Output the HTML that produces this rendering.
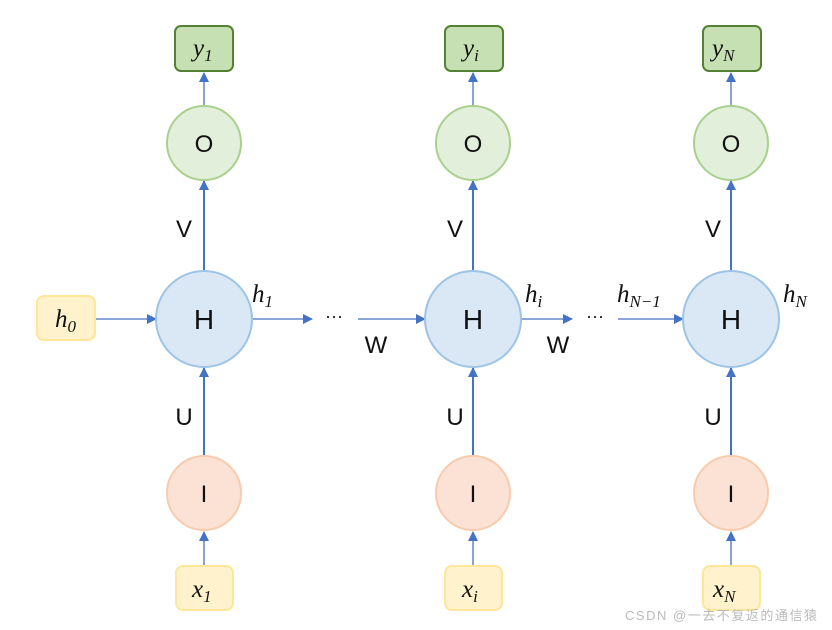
<!DOCTYPE html>
<html><head><meta charset="utf-8"><style>
html,body{margin:0;padding:0;background:#fff;}
svg{display:block;}
.lab{font-family:"Liberation Sans",sans-serif;font-size:24px;fill:#111;}
.m{font-family:"Liberation Serif",serif;font-style:italic;font-size:25px;fill:#111;}
.s{font-size:17px;}
</style></head><body>
<svg width="832" height="630" viewBox="0 0 832 630" xmlns="http://www.w3.org/2000/svg">
<defs>
<marker id="a" markerWidth="10" markerHeight="10" refX="9" refY="5" orient="auto" markerUnits="userSpaceOnUse">
<path d="M0,0 L10,5 L0,10 z" fill="#4472c4"/></marker>
</defs>
<g stroke="#4472c4" fill="none">
<line x1="204" y1="106" x2="204" y2="73" stroke-width="1.3" marker-end="url(#a)"/>
<line x1="204" y1="270" x2="204" y2="181" stroke-width="2" marker-end="url(#a)"/>
<line x1="204" y1="456" x2="204" y2="368" stroke-width="2" marker-end="url(#a)"/>
<line x1="204" y1="566" x2="204" y2="532" stroke-width="1.3" marker-end="url(#a)"/>
<line x1="473" y1="106" x2="473" y2="73" stroke-width="1.3" marker-end="url(#a)"/>
<line x1="473" y1="270" x2="473" y2="181" stroke-width="2" marker-end="url(#a)"/>
<line x1="473" y1="456" x2="473" y2="368" stroke-width="2" marker-end="url(#a)"/>
<line x1="473" y1="566" x2="473" y2="532" stroke-width="1.3" marker-end="url(#a)"/>
<line x1="731" y1="106" x2="731" y2="73" stroke-width="1.3" marker-end="url(#a)"/>
<line x1="731" y1="270" x2="731" y2="181" stroke-width="2" marker-end="url(#a)"/>
<line x1="731" y1="456" x2="731" y2="368" stroke-width="2" marker-end="url(#a)"/>
<line x1="731" y1="566" x2="731" y2="532" stroke-width="1.3" marker-end="url(#a)"/>
<line x1="96" y1="319" x2="156" y2="319" stroke-width="1.3" marker-end="url(#a)"/>
<line x1="252" y1="319" x2="312" y2="319" stroke-width="1.3" marker-end="url(#a)"/>
<line x1="358" y1="319" x2="425" y2="319" stroke-width="1.3" marker-end="url(#a)"/>
<line x1="521" y1="319" x2="572" y2="319" stroke-width="1.3" marker-end="url(#a)"/>
<line x1="618" y1="319" x2="683" y2="319" stroke-width="1.3" marker-end="url(#a)"/>
</g>
<g fill="#c6e0b4" stroke="#548235" stroke-width="2">
<rect x="175" y="26" width="58" height="45" rx="6"/>
<rect x="445" y="26" width="58" height="45" rx="6"/>
<rect x="703" y="26" width="58" height="45" rx="6"/>
</g>
<g fill="#fff2cc" stroke="#ffe699" stroke-width="2">
<rect x="176" y="566" width="57" height="44" rx="7"/>
<rect x="445" y="566" width="57" height="44" rx="7"/>
<rect x="703" y="566" width="57" height="44" rx="7"/>
<rect x="37" y="296" width="58" height="44" rx="7"/>
</g>
<g fill="#e2efda" stroke="#a9d18e" stroke-width="2">
<circle cx="204" cy="143" r="37"/><circle cx="473" cy="143" r="37"/><circle cx="731" cy="143" r="37"/>
</g>
<g fill="#dae8f5" stroke="#9dc3e6" stroke-width="2">
<circle cx="204" cy="319" r="48"/><circle cx="473" cy="319" r="48"/><circle cx="731" cy="319" r="48"/>
</g>
<g fill="#fbe2d5" stroke="#f8cbad" stroke-width="2">
<circle cx="204" cy="493" r="37"/><circle cx="473" cy="493" r="37"/><circle cx="731" cy="493" r="37"/>
</g>
<g class="lab" text-anchor="middle">
<text x="204" y="152">O</text><text x="473" y="152">O</text><text x="731" y="152">O</text>
<text x="204" y="329" font-size="28">H</text><text x="473" y="329" font-size="28">H</text><text x="731" y="329" font-size="28">H</text>
<text x="204" y="502">I</text><text x="473" y="502">I</text><text x="731" y="502">I</text>
<text x="184" y="237">V</text><text x="455" y="237">V</text><text x="713" y="237">V</text>
<text x="184" y="425">U</text><text x="455" y="425">U</text><text x="713" y="425">U</text>
<text x="376" y="353">W</text><text x="558" y="353">W</text>
<text x="334" y="322" font-size="18">···</text><text x="595" y="322" font-size="18">···</text>
</g>
<g class="m">
<text x="193" y="56">y<tspan class="s" dy="5">1</tspan></text>
<text x="463" y="56">y<tspan class="s" dy="5">i</tspan></text>
<text x="712" y="56">y<tspan class="s" dy="5">N</tspan></text>
<text x="192" y="597">x<tspan class="s" dy="5">1</tspan></text>
<text x="462" y="597">x<tspan class="s" dy="5">i</tspan></text>
<text x="713" y="597">x<tspan class="s" dy="5">N</tspan></text>
<text x="55" y="327">h<tspan class="s" dy="5">0</tspan></text>
<text x="252" y="302">h<tspan class="s" dy="5">1</tspan></text>
<text x="525" y="302">h<tspan class="s" dy="5">i</tspan></text>
<text x="617" y="302">h<tspan class="s" dy="5">N−1</tspan></text>
<text x="783" y="302">h<tspan class="s" dy="5">N</tspan></text>
</g>
<text x="625" y="620" font-family="'Liberation Sans','Noto Sans CJK SC',sans-serif" font-size="13" fill="#bbb" textLength="192">CSDN @一去不复返的通信猿</text>
</svg>
</body></html>
